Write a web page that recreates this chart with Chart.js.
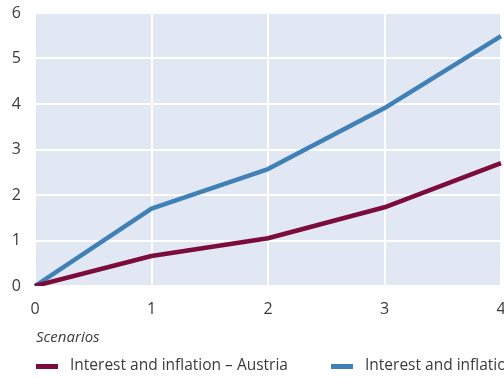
<!DOCTYPE html>
<html>
<head>
<meta charset="utf-8">
<script src="https://cdn.jsdelivr.net/npm/chart.js@4/dist/chart.umd.min.js"></script>
<style>
  html, body { margin: 0; padding: 0; background: #ffffff; overflow: hidden; }
  #wrap { width: 560px; height: 378px; }
</style>
</head>
<body>
<div id="wrap"><canvas id="c" width="560" height="378"></canvas></div>
<script>
// Scenario steps along the x axis
const scenarios = ['0', '1', '2', '3', '4'];
// Series values
const austria = [0, 0.66, 1.05, 1.73, 2.70];
const euroArea = [0, 1.70, 2.57, 3.91, 5.49];
const seriesNames = ['Interest and inflation – Austria', 'Interest and inflation – euro area'];
const yTicks = [0, 1, 2, 3, 4, 5, 6];
const axisTitle = 'Scenarios';

const TEXT = '#3b3b3b';
const FONT = '"Open Sans", Lato, sans-serif';

// Shaded plot background
const plotBackground = {
  id: 'plotBackground',
  beforeDraw(chart) {
    const { ctx, chartArea: a } = chart;
    ctx.save();
    ctx.fillStyle = '#e2e8f3';
    ctx.fillRect(a.left, a.top, a.right - a.left, a.bottom - a.top);
    ctx.restore();
  }
};

// Axis caption and legend beneath the plot
const captionAndLegend = {
  id: 'captionAndLegend',
  afterDraw(chart) {
    const { ctx, chartArea: a } = chart;
    ctx.save();
    ctx.fillStyle = TEXT;
    ctx.textBaseline = 'middle';
    ctx.textAlign = 'left';
    ctx.font = 'italic 15px ' + FONT;
    ctx.fillText(axisTitle, a.left + 1, 338);

    ctx.font = '15.5px ' + FONT;
    const starts = [36, 331];
    chart.data.datasets.forEach((ds, i) => {
      const x = starts[i];
      ctx.fillStyle = ds.borderColor;
      ctx.fillRect(x, 364, 22, 5);
      ctx.fillStyle = TEXT;
      ctx.fillText(ds.label, x + 34, 366);
    });
    ctx.restore();
  }
};

new Chart(document.getElementById('c'), {
  type: 'line',
  data: {
    labels: scenarios,
    datasets: [
      { label: seriesNames[0], data: austria, borderColor: '#7b0c3b', borderWidth: 4.5,
        pointRadius: 0, tension: 0, fill: false, borderJoinStyle: 'round' },
      { label: seriesNames[1], data: euroArea, borderColor: '#3f80b7', borderWidth: 4.5,
        pointRadius: 0, tension: 0, fill: false, borderJoinStyle: 'round' }
    ]
  },
  options: {
    responsive: false,
    animation: false,
    devicePixelRatio: 1,
    layout: { padding: { top: 13, right: 59, bottom: 0, left: 0 } },
    plugins: { legend: { display: false }, tooltip: { enabled: false } },
    scales: {
      x: {
        offset: false,
        grid: { color: '#ffffff', lineWidth: 2, drawTicks: false },
        border: { display: false },
        ticks: { color: TEXT, font: { family: FONT, size: 16 }, padding: 14, maxRotation: 0 },
        afterFit(scale) { scale.height = 92; }
      },
      y: {
        min: 0, max: 6,
        afterBuildTicks(scale) { scale.ticks = yTicks.map(v => ({ value: v })); },
        grid: { color: '#ffffff', lineWidth: 2, drawTicks: false },
        border: { display: false },
        ticks: { color: TEXT, font: { family: FONT, size: 16, lineHeight: 1 }, padding: 14 },
        afterFit(scale) {
          scale.width = 35;
          scale.paddingTop = 0;
          scale.paddingBottom = 0;
        }
      }
    }
  },
  plugins: [plotBackground, captionAndLegend]
});
</script>
</body>
</html>
